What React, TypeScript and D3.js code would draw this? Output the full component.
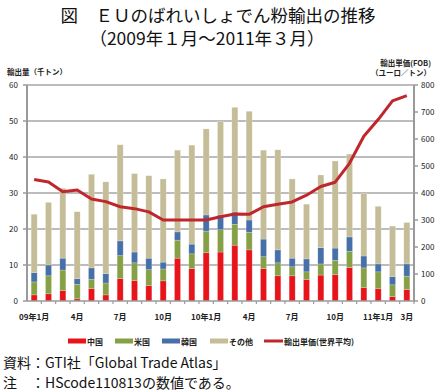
import React, { useEffect, useRef } from 'react';
import * as d3 from 'd3';

// months Jan 2009 - Mar 2011
const months = [
  '09-01', '09-02', '09-03', '09-04', '09-05', '09-06', '09-07', '09-08', '09-09',
  '09-10', '09-11', '09-12', '10-01', '10-02', '10-03', '10-04', '10-05', '10-06',
  '10-07', '10-08', '10-09', '10-10', '10-11', '10-12', '11-01', '11-02', '11-03'
];
const monthLabels: Record<string, string> = {
  '09-01': '09年1月', '09-04': '4月', '09-07': '7月', '09-10': '10月',
  '10-01': '10年1月', '10-04': '4月', '10-07': '7月', '10-10': '10月',
  '11-01': '11年1月', '11-03': '3月'
};

// 輸出量（千トン）
const china = [1.7, 2.0, 2.9, 0.6, 3.4, 1.7, 6.2, 5.7, 4.3, 5.6, 11.9, 9.0, 13.4, 13.6, 15.5, 14.2, 9.0, 7.0, 7.0, 6.0, 7.2, 7.3, 9.3, 3.7, 3.4, 1.2, 3.2];
const usa = [3.6, 5.0, 5.7, 4.0, 2.6, 3.3, 6.4, 4.9, 4.4, 3.3, 5.0, 4.1, 6.0, 6.2, 5.8, 4.9, 3.3, 3.6, 2.5, 2.1, 3.1, 4.0, 4.5, 5.5, 4.7, 3.3, 3.7];
const korea = [2.6, 3.0, 3.3, 1.6, 3.2, 2.6, 4.1, 3.0, 3.2, 1.9, 2.3, 2.7, 4.5, 4.1, 3.4, 3.4, 4.9, 3.6, 2.4, 3.6, 4.5, 3.4, 4.0, 3.3, 2.2, 2.3, 3.4];
const other = [16.2, 17.4, 19.4, 18.6, 26.0, 25.5, 26.7, 21.8, 22.9, 23.1, 22.7, 27.5, 23.9, 26.0, 29.1, 30.2, 24.7, 27.8, 22.0, 15.2, 20.2, 24.2, 23.0, 17.4, 16.0, 14.0, 11.5];

// 輸出単価（ユーロ／トン）
const price = [450, 441, 405, 411, 378, 368, 349, 342, 330, 300, 300, 300, 300, 312, 322, 321, 349, 358, 367, 392, 424, 440, 510, 610, 672, 741, 761];

const seriesKeys = ['中国', '米国', '韓国', 'その他'];
const seriesColors = ['#e8141c', '#86a046', '#4770a8', '#c4bd97'];
const lineColor = '#c0272d';
const lineName = '輸出単価(世界平均)';

const leftTicks = [0, 10, 20, 30, 40, 50, 60];
const rightTicks = [0, 100, 200, 300, 400, 500, 600, 700, 800];

const FONT = '"Noto Sans CJK JP", "Noto Sans", sans-serif';

export default function App() {
  const svgRef = useRef<SVGSVGElement>(null);

  useEffect(() => {
    if (!svgRef.current) return;
    const svg = d3.select(svgRef.current);
    svg.selectAll('*').remove();

    const width = 443;
    const margin = { top: 85, right: 29, bottom: 91, left: 27 };
    const innerWidth = width - margin.left - margin.right;
    const innerHeight = 392 - margin.top - margin.bottom;

    const g = svg.append('g').attr('transform', `translate(${margin.left},${margin.top})`);

    const x = d3.scaleBand().domain(months).range([0, innerWidth]).paddingInner(0.58).paddingOuter(0.29);
    const band = d3.scaleBand().domain(months).range([0, innerWidth]);
    const yL = d3.scaleLinear().domain([0, 60]).range([innerHeight, 0]);
    const yR = d3.scaleLinear().domain([0, 800]).range([innerHeight, 0]);

    // gridlines
    g.selectAll('.grid')
      .data(leftTicks.slice(1))
      .enter()
      .append('line')
      .attr('x1', 0)
      .attr('x2', innerWidth)
      .attr('y1', d => yL(d))
      .attr('y2', d => yL(d))
      .attr('stroke', '#a6a6a6')
      .attr('stroke-width', 1.5);

    // stacked bars
    const rows = months.map((m, i) => ({ month: m, '中国': china[i], '米国': usa[i], '韓国': korea[i], 'その他': other[i] }));
    const stacked = d3.stack<any>().keys(seriesKeys)(rows);

    stacked.forEach((layer, li) => {
      g.selectAll(`.bar${li}`)
        .data(layer)
        .enter()
        .append('rect')
        .attr('x', d => x(d.data.month) || 0)
        .attr('width', x.bandwidth())
        .attr('y', d => yL(d[1]))
        .attr('height', d => yL(d[0]) - yL(d[1]))
        .attr('fill', seriesColors[li])
        .attr('stroke', 'rgba(255,255,255,0.35)')
        .attr('stroke-width', 0.6);
    });

    // axes
    g.append('line')
      .attr('x1', 0).attr('x2', 0).attr('y1', 0).attr('y2', innerHeight)
      .attr('stroke', '#9a9a9a').attr('stroke-width', 2);
    g.append('line')
      .attr('x1', innerWidth).attr('x2', innerWidth).attr('y1', 0).attr('y2', innerHeight)
      .attr('stroke', '#9a9a9a').attr('stroke-width', 2);
    g.append('line')
      .attr('x1', 0).attr('x2', innerWidth).attr('y1', innerHeight).attr('y2', innerHeight)
      .attr('stroke', '#9a9a9a').attr('stroke-width', 1.5);

    // left ticks + labels
    leftTicks.forEach(t => {
      g.append('line')
        .attr('x1', -4).attr('x2', 0).attr('y1', yL(t)).attr('y2', yL(t))
        .attr('stroke', '#9a9a9a').attr('stroke-width', 1.5);
      g.append('text')
        .attr('x', -9)
        .attr('y', yL(t) + 3)
        .attr('text-anchor', 'end')
        .attr('fill', '#222')
        .style('font-size', '8px')
        .style('font-family', FONT)
        .text(t);
    });

    // right ticks + labels
    rightTicks.forEach(t => {
      g.append('line')
        .attr('x1', innerWidth).attr('x2', innerWidth + 4).attr('y1', yR(t)).attr('y2', yR(t))
        .attr('stroke', '#9a9a9a').attr('stroke-width', 1.5);
      g.append('text')
        .attr('x', innerWidth + 7)
        .attr('y', yR(t) + 3)
        .attr('fill', '#222')
        .style('font-size', '8px')
        .style('font-family', FONT)
        .text(t);
    });

    // bottom ticks at band boundaries
    months.forEach(m => {
      const bx = (band(m) || 0) + band.bandwidth();
      g.append('line')
        .attr('x1', bx).attr('x2', bx).attr('y1', innerHeight).attr('y2', innerHeight + 3)
        .attr('stroke', '#9a9a9a').attr('stroke-width', 1.2);
    });

    // month labels
    months.forEach(m => {
      if (!monthLabels[m]) return;
      g.append('text')
        .attr('x', (x(m) || 0) + x.bandwidth() / 2)
        .attr('y', innerHeight + 19)
        .attr('text-anchor', 'middle')
        .attr('fill', '#222')
        .style('font-size', '8px')
        .style('font-weight', 'bold')
        .style('font-family', FONT)
        .text(monthLabels[m]);
    });

    // price line
    const line = d3.line<number>()
      .x((_, i) => (x(months[i]) || 0) + x.bandwidth() / 2)
      .y(d => yR(d));
    g.append('path')
      .datum(price)
      .attr('d', line)
      .attr('fill', 'none')
      .attr('stroke', lineColor)
      .attr('stroke-width', 3)
      .attr('stroke-linejoin', 'round');

    // axis titles
    svg.append('text')
      .attr('x', 7).attr('y', 75)
      .attr('fill', '#222')
      .style('font-size', '7.5px').style('font-weight', 'bold').style('font-family', FONT)
      .text('輸出量（千トン）');
    svg.append('text')
      .attr('x', 431).attr('y', 66)
      .attr('text-anchor', 'end')
      .attr('fill', '#222')
      .style('font-size', '7.5px').style('font-weight', 'bold').style('font-family', FONT)
      .text('輸出単価(FOB)');
    svg.append('text')
      .attr('x', 431).attr('y', 76)
      .attr('text-anchor', 'end')
      .attr('fill', '#222')
      .style('font-size', '7.5px').style('font-weight', 'bold').style('font-family', FONT)
      .text('（ユーロ／トン）');

    // legend
    const legendX = [68, 115, 162, 210];
    seriesKeys.forEach((k, i) => {
      svg.append('rect')
        .attr('x', legendX[i]).attr('y', 338.5)
        .attr('width', 18).attr('height', 5)
        .attr('fill', seriesColors[i]);
      svg.append('text')
        .attr('x', legendX[i] + 19).attr('y', 344.5)
        .attr('fill', '#222')
        .style('font-size', '8px').style('font-weight', 'bold').style('font-family', FONT)
        .text(k);
    });
    svg.append('line')
      .attr('x1', 264).attr('x2', 283).attr('y1', 341).attr('y2', 341)
      .attr('stroke', lineColor).attr('stroke-width', 3);
    svg.append('text')
      .attr('x', 284).attr('y', 344.5)
      .attr('fill', '#222')
      .style('font-size', '8px').style('font-weight', 'bold').style('font-family', FONT)
      .text(lineName);

    // title
    svg.append('text')
      .attr('x', 218).attr('y', 22)
      .attr('text-anchor', 'middle')
      .attr('fill', '#111')
      .style('font-size', '17.5px').style('font-family', FONT)
      .text('図　ＥＵのばれいしょでん粉輸出の推移');
    svg.append('text')
      .attr('x', 207).attr('y', 45)
      .attr('text-anchor', 'middle')
      .attr('fill', '#111')
      .style('font-size', '17.5px').style('font-family', FONT)
      .text('（2009年１月～2011年３月）');

    // notes
    svg.append('text')
      .attr('x', 3).attr('y', 368)
      .attr('fill', '#111')
      .style('font-size', '14px').style('font-family', FONT)
      .text('資料：GTI社「Global Trade Atlas」');
    svg.append('text')
      .attr('x', 3).attr('y', 388)
      .attr('fill', '#111')
      .style('font-size', '14px').style('font-family', FONT)
      .text('注　：HScode110813の数値である。');
  }, []);

  return (
    <div style={{ position: 'absolute', left: 0, top: 0 }}>
      <svg ref={svgRef} width={443} height={392} style={{ display: 'block', background: '#fff' }}></svg>
    </div>
  );
}
